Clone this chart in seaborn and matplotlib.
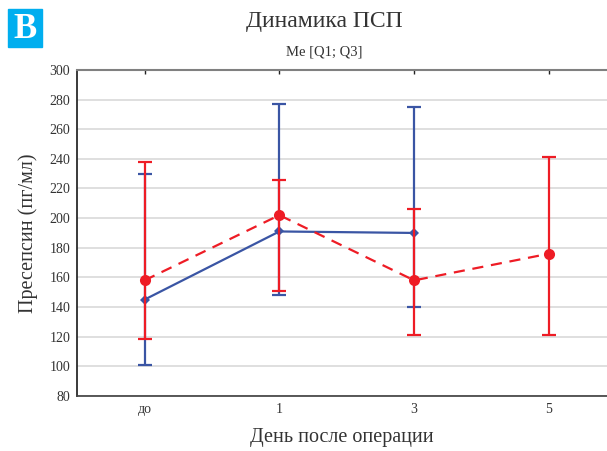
import numpy as np
import pandas as pd
import matplotlib
matplotlib.use("Agg")
import matplotlib.pyplot as plt
import seaborn as sns

# days after surgery
days = ["до", "1", "3", "5"]

# blue series (solid) - median, Q1, Q3
blue_med = [145, 191, 190]
blue_q1 = [101, 148, 140]
blue_q3 = [230, 277, 275]

# red series (dashed) - median, Q1, Q3
red_med = [158, 202, 158, 176]
red_q1 = [118.5, 151, 121, 121]
red_q3 = [238, 226, 206, 241]

blue_c = "#3A55A4"
red_c = "#EE1C25"

sns.set_theme(style="white")
plt.rcParams["font.family"] = ["Liberation Serif", "DejaVu Serif"]

fig = plt.figure(figsize=(6.07, 4.51), dpi=100)
ax = fig.add_axes([0.127, 0.122, 0.873, 0.723])

blue_df = pd.DataFrame({"x": np.arange(len(blue_med)), "y": blue_med})
red_df = pd.DataFrame({"x": np.arange(len(red_med)), "y": red_med})

# error bars (IQR)
ax.errorbar(blue_df["x"], blue_df["y"],
            yerr=[np.subtract(blue_med, blue_q1), np.subtract(blue_q3, blue_med)],
            fmt="none", ecolor=blue_c, elinewidth=1.6, capsize=5, capthick=1.6, zorder=3)
sns.lineplot(data=blue_df, x="x", y="y", ax=ax, color=blue_c, linewidth=1.6,
             marker="D", markersize=5, markeredgewidth=0, zorder=4)

ax.errorbar(red_df["x"], red_df["y"],
            yerr=[np.subtract(red_med, red_q1), np.subtract(red_q3, red_med)],
            fmt="none", ecolor=red_c, elinewidth=1.6, capsize=5, capthick=1.6, zorder=5)
sns.lineplot(data=red_df, x="x", y="y", ax=ax, color=red_c, linewidth=1.6,
             linestyle=(0, (5, 3.5)), marker="o", markersize=8, markeredgewidth=0, zorder=6)

ax.set_xlim(-0.5, 3.43)
ax.set_ylim(80, 300)
ax.set_yticks(range(80, 301, 20))
ax.set_xticks(range(len(days)))
ax.set_xticklabels(days)
ax.yaxis.grid(True, color="#D9D9D9", linewidth=1.2)
ax.set_axisbelow(True)

ax.spines["right"].set_visible(False)
ax.spines["left"].set_color("#222222")
ax.spines["bottom"].set_color("#444444")
ax.spines["top"].set_color("#808080")
ax.spines["top"].set_linewidth(1.5)
ax.tick_params(axis="both", direction="in", length=3, width=1, colors="#222222",
               labelsize=10, labelcolor="#333333")
ax.tick_params(axis="x", top=True, pad=5)
ax.tick_params(axis="y", pad=5)

ax.set_xlabel("День после операции", fontsize=14.5, color="#333333", labelpad=9)
ax.set_ylabel("Пресепсин (пг/мл)", fontsize=14.5, color="#333333", labelpad=8)

fig.text(0.535, 0.953, "Динамика ПСП", ha="center", va="center", fontsize=17, color="#333333")
fig.text(0.535, 0.885, "Me [Q1; Q3]", ha="center", va="center", fontsize=10.5, color="#333333")

# panel badge
fig.patches.append(plt.Rectangle((8 / 607, 1 - 47 / 451), 34 / 607, 38 / 451,
                                 transform=fig.transFigure, color="#00AEEF", zorder=1))
fig.text(25 / 607, 1 - 29 / 451, "B", ha="center", va="center", fontsize=25,
         color="white", fontweight="bold")

fig.savefig("out.png", dpi=100)
